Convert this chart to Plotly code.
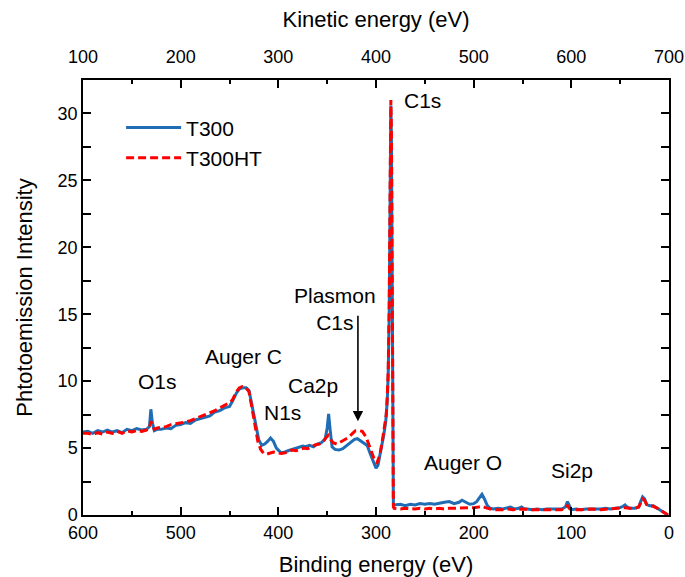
import plotly.graph_objects as go

# ---- data ----
be_t300 = [600, 595, 590, 585, 580, 575, 570, 565, 560, 555, 550, 545, 540, 535, 532, 530.5, 529, 527,
           524, 520, 515, 510, 505, 500, 495, 490, 485, 480, 475, 470, 465, 460, 455, 450, 447, 443,
           440, 437, 433, 430, 427, 423, 420, 417, 414, 411, 408, 405, 402, 398, 395, 390, 386, 382,
           378, 375, 372, 368, 364, 360, 356, 352, 350, 348.5, 347, 345, 342, 338, 334, 330, 326, 322,
           319, 316, 312, 309, 306, 303, 300, 298, 295, 292, 290, 288.5, 287.5, 286.5, 285.5, 284.8,
           284.2, 283.6, 283.1, 282.6, 282.2, 281.5, 275, 270, 265, 260, 255, 250, 245, 240, 235, 230,
           225, 220, 215, 212, 208, 204, 200, 197, 194, 191.5, 189, 186, 183, 180, 175, 170, 165, 162,
           158, 154, 151, 148, 145, 140, 135, 130, 125, 120, 115, 110, 106, 104, 102, 100, 95, 90, 85,
           80, 75, 70, 65, 60, 55, 50, 47, 45, 43, 40, 35, 31, 29, 27, 25, 23, 20, 16, 12, 8, 4, 1]
i_t300 = [6.2, 6.25, 6.1, 6.3, 6.2, 6.35, 6.2, 6.3, 6.15, 6.4, 6.3, 6.45, 6.35, 6.4, 6.6, 7.9, 6.9, 6.3,
          6.4, 6.4, 6.5, 6.45, 6.7, 6.75, 6.9, 6.85, 7.1, 7.2, 7.35, 7.4, 7.7, 7.8, 8.0, 8.1, 8.5, 9.1,
          9.4, 9.5, 9.5, 9.3, 8.2, 6.8, 5.6, 5.2, 5.3, 5.5, 5.75, 5.5, 5.0, 4.7, 4.65, 4.8, 4.9, 4.95,
          5.1, 5.15, 5.1, 5.2, 5.1, 5.3, 5.4, 5.7, 6.5, 7.55, 6.4, 5.1, 4.9, 4.85, 4.95, 5.2, 5.4, 5.65,
          5.7, 5.55, 5.4, 5.2, 4.6, 4.0, 3.5, 3.7, 4.8, 6.0, 7.0, 8.5, 10.5, 15.0, 24.0, 30.6,
          28.0, 18.0, 8.0, 2.0, 0.9, 0.75, 0.8, 0.7, 0.8, 0.75, 0.85, 0.8, 0.85, 0.8, 0.9, 0.95,
          1.0, 0.85, 0.95, 1.1, 0.95, 0.8, 0.85, 1.0, 1.3, 1.55, 1.2, 0.7, 0.5, 0.45, 0.5, 0.45, 0.55, 0.6,
          0.45, 0.5, 0.6, 0.45, 0.45, 0.4, 0.45, 0.4, 0.45, 0.45, 0.4, 0.45, 0.6, 1.0, 0.7, 0.4, 0.45, 0.4, 0.45,
          0.45, 0.4, 0.45, 0.5, 0.45, 0.5, 0.55, 0.65, 0.75, 0.6, 0.5, 0.5, 0.6, 1.0, 1.35, 1.2, 0.8, 0.7, 0.7, 0.5, 0.3, 0.1, 0.0]

be_t300ht = [600, 595, 590, 585, 580, 575, 570, 565, 560, 555, 550, 545, 540, 535, 532, 530.5, 529, 527,
             524, 520, 515, 510, 505, 500, 495, 490, 485, 480, 475, 470, 465, 460, 455, 450, 447, 443,
             440, 437, 433, 430, 427, 424, 421, 418, 415, 412, 409, 405, 401, 397, 393, 390, 386, 382,
             378, 374, 370, 366, 362, 358, 354, 351, 349, 347, 344, 340, 336, 332, 328, 324, 321, 317,
             314, 310, 307, 304, 301, 299, 296, 293, 291, 289.5, 288.5, 287.5, 286.5, 285.5, 284.8,
             284.2, 283.6, 283.1, 282.6, 282.2, 281.5, 275, 270, 265, 260, 255, 250, 245, 240, 235, 230,
             225, 220, 215, 210, 205, 200, 195, 191, 188, 184, 180, 170, 165, 160, 150, 140, 130, 120,
             110, 106, 104, 102, 100, 90, 80, 70, 60, 50, 45, 40, 35, 31, 29, 27, 25, 23, 20, 16, 12, 8, 4, 1]
i_t300ht = [6.1, 6.1, 6.0, 6.15, 6.05, 6.2, 6.1, 6.25, 6.1, 6.3, 6.2, 6.3, 6.25, 6.35, 6.5, 7.0, 6.7, 6.4,
            6.5, 6.55, 6.6, 6.75, 6.8, 6.9, 6.95, 7.05, 7.2, 7.35, 7.5, 7.6, 7.8, 8.0, 8.2, 8.4, 8.6, 9.2,
            9.5, 9.6, 9.5, 9.2, 8.0, 6.8, 5.5, 4.9, 4.6, 4.55, 4.6, 4.7, 4.65, 4.6, 4.65, 4.7, 4.85, 4.8,
            4.9, 5.0, 4.95, 5.1, 5.25, 5.3, 5.5, 5.8, 5.95, 5.7, 5.4, 5.3, 5.45, 5.6, 5.8, 6.1, 6.3, 6.3,
            6.25, 5.8, 5.2, 4.6, 4.0, 3.9, 4.5, 5.8, 6.8, 7.5, 8.8, 10.8, 15.5, 24.5, 31.0,
            28.5, 18.0, 8.0, 1.8, 0.6, 0.5, 0.45, 0.5, 0.45, 0.45, 0.5, 0.45, 0.5, 0.45, 0.5, 0.45,
            0.5, 0.5, 0.55, 0.5, 0.5, 0.55, 0.6, 0.65, 0.55, 0.45, 0.4, 0.4, 0.45, 0.4, 0.45, 0.4, 0.4, 0.45,
            0.4, 0.5, 0.7, 0.5, 0.4, 0.4, 0.45, 0.4, 0.45, 0.5, 0.55, 0.5, 0.5, 0.6, 0.95, 1.2, 1.1, 0.8, 0.7, 0.65, 0.5, 0.3, 0.1, 0.0]

labels = ["C1s", "Plasmon<br>C1s", "O1s", "Auger C", "N1s", "Ca2p", "Auger O", "Si2p"]
label_be = [273, 341.5, 524, 436, 396, 364.5, 211, 99]
label_i = [31.0, 15.4, 10.0, 11.85, 7.65, 9.65, 3.9, 3.3]

arrow_be = 318.5
arrow_head = 7.0
arrow_tail = 15.0

kin_range = [100, 700]
be_range = [600, 0]

FONT = "Liberation Sans, Arial, sans-serif"

fig = go.Figure()
fig.add_trace(go.Scatter(x=be_t300, y=i_t300, mode="lines", name="T300",
                         line=dict(color="#1f6db4", width=3)))
fig.add_trace(go.Scatter(x=be_t300ht, y=i_t300ht, mode="lines", name="T300HT",
                         line=dict(color="#ff0000", width=3, dash="8px,4px")))
# invisible trace to activate top (kinetic energy) axis
fig.add_trace(go.Scatter(x=kin_range, y=[0, 0], xaxis="x2", mode="lines",
                         line=dict(width=0), showlegend=False, hoverinfo="skip", opacity=0))

for t, bx, by in zip(labels, label_be, label_i):
    fig.add_annotation(x=bx, y=by, text=t, showarrow=False,
                       xanchor="left" if t == "C1s" else "center",
                       font=dict(size=21, color="black", family=FONT))

fig.add_annotation(x=arrow_be, y=arrow_head, ax=arrow_be, ay=arrow_tail, axref="x", ayref="y",
                   text="", showarrow=True, arrowhead=2, arrowsize=1.3, arrowwidth=1.6,
                   arrowcolor="black")

axis_common = dict(showline=True, linecolor="black", linewidth=1.5, ticks="inside", ticklen=8,
                   tickwidth=1.5, tickcolor="black", showgrid=False, zeroline=False, automargin=False,
                   tickfont=dict(size=18, color="black", family=FONT))

fig.update_layout(
    width=685, height=577,
    margin=dict(l=83, r=16, t=80, b=62),
    plot_bgcolor="white", paper_bgcolor="white",
    font=dict(family=FONT, color="black"),
    showlegend=True,
    legend=dict(x=0.065, y=0.937, xanchor="left", yanchor="top", bgcolor="rgba(0,0,0,0)",
                font=dict(size=21, family=FONT, color="black"), tracegroupgap=0,
                itemwidth=55),
    xaxis=dict(range=be_range, dtick=100, ticklabelstandoff=1,
               title=dict(text="Binding energy (eV)", font=dict(size=22, family=FONT), standoff=15),
               minor=dict(ticks="inside", ticklen=4, dtick=50, tickcolor="black", tickwidth=1.5),
               **axis_common),
    xaxis2=dict(range=kin_range, dtick=100, overlaying="x", side="top", ticklabelstandoff=8,
                title=dict(text="Kinetic energy (eV)", font=dict(size=22, family=FONT), standoff=13),
                minor=dict(ticks="inside", ticklen=4, dtick=50, tickcolor="black", tickwidth=1.5),
                **axis_common),
    yaxis=dict(range=[0, 32.5], dtick=5, mirror="allticks",
               title=dict(text="Phtotoemission Intensity", font=dict(size=22, family=FONT), standoff=19),
               minor=dict(ticks="inside", ticklen=4, dtick=2.5, tickcolor="black", tickwidth=1.5),
               **axis_common),
)

# remove the default page margin so the 685x577 figure fills the window exactly
fig.write_html("out.html", config={"displayModeBar": False},
               post_script="document.body.style.margin='0';document.body.style.overflow='hidden';")
